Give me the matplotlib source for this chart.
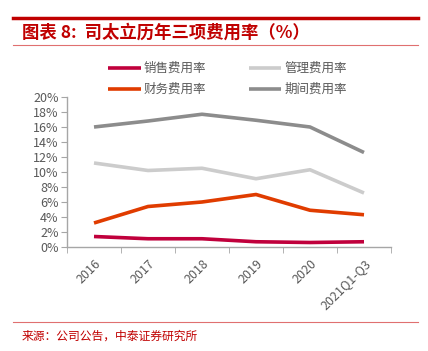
import matplotlib
matplotlib.use("Agg")
import matplotlib.pyplot as plt
from matplotlib.lines import Line2D
from matplotlib.ticker import FuncFormatter, FixedLocator

plt.rcParams['font.family'] = ['Noto Sans CJK SC', 'DejaVu Sans']

# 数据
years = ['2016', '2017', '2018', '2019', '2020', '2021Q1-Q3']
sales_rate = [1.4, 1.1, 1.1, 0.7, 0.6, 0.7]      # 销售费用率
admin_rate = [11.2, 10.2, 10.5, 9.1, 10.3, 7.2]  # 管理费用率
fin_rate = [3.2, 5.4, 6.0, 7.0, 4.9, 4.3]        # 财务费用率
period_rate = [16.0, 16.8, 17.7, 16.9, 16.0, 12.6]  # 期间费用率

W, H = 428, 351
fig = plt.figure(figsize=(W / 100, H / 100), dpi=100)
ax = fig.add_axes([67 / W, 1 - 247 / H, (391 - 67) / W, (247 - 97) / H])

x = range(len(years))
lw = 2.6
l1, = ax.plot(x, sales_rate, color='#C0003C', lw=lw, label='销售费用率', solid_capstyle='butt')
l2, = ax.plot(x, admin_rate, color='#CCCCCC', lw=lw, label='管理费用率', solid_capstyle='butt')
l3, = ax.plot(x, fin_rate, color='#E03C00', lw=lw, label='财务费用率', solid_capstyle='butt')
l4, = ax.plot(x, period_rate, color='#8C8C8C', lw=lw, label='期间费用率', solid_capstyle='butt')

ax.set_xlim(-0.5, len(years) - 0.5)
ax.set_ylim(0, 20)
ax.set_yticks(range(0, 21, 2))
ax.yaxis.set_major_formatter(FuncFormatter(lambda v, p: '%d%%' % v))

ax.set_xticks(list(x))
ax.set_xticklabels(years, rotation=45, ha='right', rotation_mode='anchor')
ax.xaxis.set_minor_locator(FixedLocator([i - 0.5 for i in range(len(years) + 1)]))
ax.tick_params(axis='x', which='major', length=0, pad=7, labelsize=9, labelcolor='#595959')
ax.tick_params(axis='x', which='minor', length=4, color='#A6A6A6', direction='out')
ax.tick_params(axis='y', length=4, color='#A6A6A6', labelsize=9, labelcolor='#595959', pad=2)

for s in ['top', 'right']:
    ax.spines[s].set_visible(False)
for s in ['left', 'bottom']:
    ax.spines[s].set_color('#A6A6A6')
    ax.spines[s].set_linewidth(1)

handles = [l1, l3, l2, l4]
ax.legend(handles, [h.get_label() for h in handles],
          loc='upper left', bbox_to_anchor=(103 / W, 1 - 57 / H), bbox_transform=fig.transFigure,
          ncol=2, frameon=False, fontsize=9, labelcolor='#595959', handlelength=2.6,
          handletextpad=0.25, columnspacing=3.4, borderaxespad=0, labelspacing=0.65)

# 标题与装饰线
fig.add_artist(Line2D([13 / W, 418 / W], [1 - 18 / H, 1 - 18 / H], color='#C00000', lw=2.5))
fig.add_artist(Line2D([13 / W, 418 / W], [1 - 45 / H, 1 - 45 / H], color='#E07070', lw=0.8))
fig.text(22 / W, 1 - 33 / H, '图表 8:  司太立历年三项费用率（%）', color='#C00000', fontsize=12.5,
         fontweight='bold', fontstyle='italic', va='center', ha='left')
fig.add_artist(Line2D([13 / W, 418 / W], [1 - 322 / H, 1 - 322 / H], color='#E07070', lw=0.8))
fig.text(22 / W, 1 - 336 / H, '来源：公司公告，中泰证券研究所', color='#C00000', fontsize=8.5,
         va='center', ha='left')

fig.savefig('out.png', dpi=100)
